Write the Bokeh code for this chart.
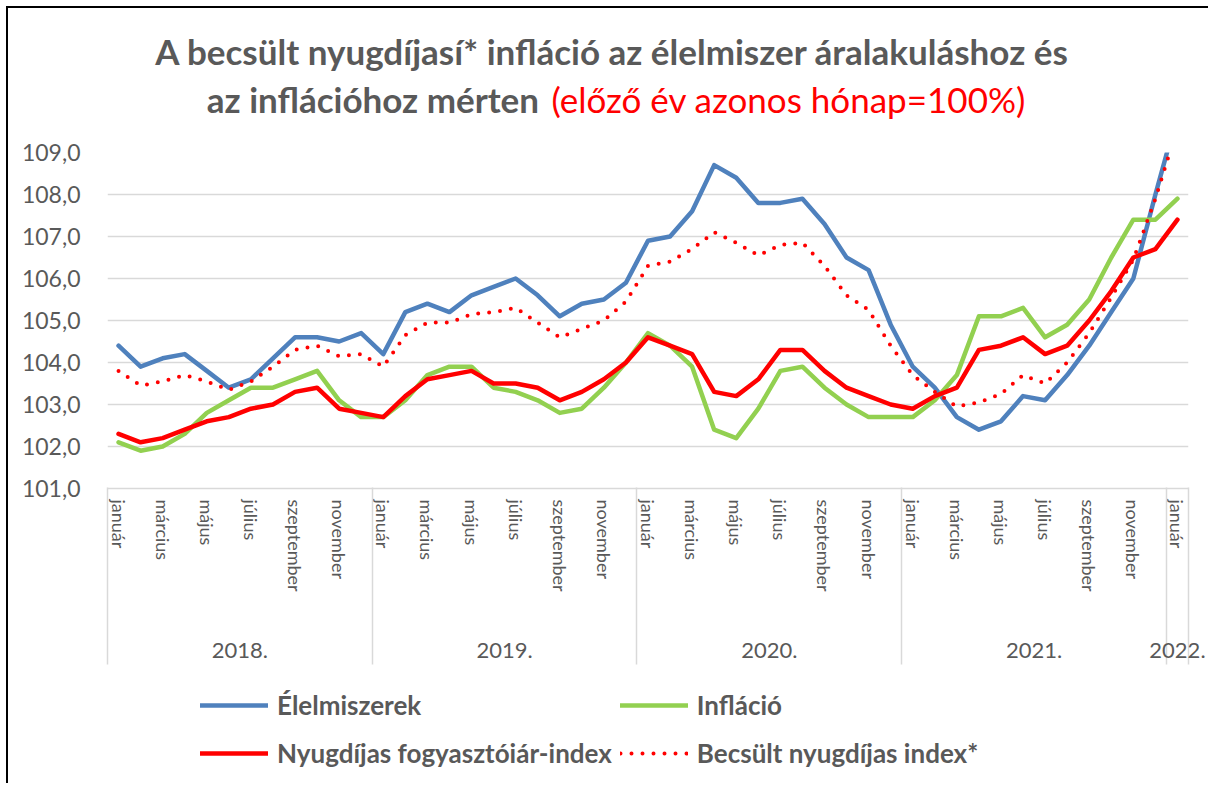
from bokeh.plotting import figure
from bokeh.layouts import column
from bokeh.models import (Range1d, FixedTicker, LinearAxis, CustomJSTickFormatter,
                          Legend, LegendItem, Grid)
from bokeh.core.properties import value
from bokeh.embed import file_html
from bokeh.resources import INLINE

# ---------------- data ----------------
month_names = ["január", "február", "március", "április", "május", "június",
               "július", "augusztus", "szeptember", "október", "november", "december"]
months = month_names * 4 + ["január"]
years = ["2018."] * 12 + ["2019."] * 12 + ["2020."] * 12 + ["2021."] * 12 + ["2022."]

elelmiszerek = [104.4, 103.9, 104.1, 104.2, 103.8, 103.4, 103.6, 104.1, 104.6, 104.6, 104.5, 104.7,
                104.2, 105.2, 105.4, 105.2, 105.6, 105.8, 106.0, 105.6, 105.1, 105.4, 105.5, 105.9,
                106.9, 107.0, 107.6, 108.7, 108.4, 107.8, 107.8, 107.9, 107.3, 106.5, 106.2, 104.9,
                103.9, 103.4, 102.7, 102.4, 102.6, 103.2, 103.1, 103.7, 104.4, 105.2, 106.0, 108.0,
                109.9]
inflacio = [102.1, 101.9, 102.0, 102.3, 102.8, 103.1, 103.4, 103.4, 103.6, 103.8, 103.1, 102.7,
            102.7, 103.1, 103.7, 103.9, 103.9, 103.4, 103.3, 103.1, 102.8, 102.9, 103.4, 104.0,
            104.7, 104.4, 103.9, 102.4, 102.2, 102.9, 103.8, 103.9, 103.4, 103.0, 102.7, 102.7,
            102.7, 103.1, 103.7, 105.1, 105.1, 105.3, 104.6, 104.9, 105.5, 106.5, 107.4, 107.4,
            107.9]
nyugdijas = [102.3, 102.1, 102.2, 102.4, 102.6, 102.7, 102.9, 103.0, 103.3, 103.4, 102.9, 102.8,
             102.7, 103.2, 103.6, 103.7, 103.8, 103.5, 103.5, 103.4, 103.1, 103.3, 103.6, 104.0,
             104.6, 104.4, 104.2, 103.3, 103.2, 103.6, 104.3, 104.3, 103.8, 103.4, 103.2, 103.0,
             102.9, 103.2, 103.4, 104.3, 104.4, 104.6, 104.2, 104.4, 105.0, 105.7, 106.5, 106.7,
             107.4]
becsult = [103.8, 103.45, 103.55, 103.7, 103.55, 103.35, 103.55, 103.9, 104.3, 104.4, 104.15, 104.2,
           103.9, 104.65, 104.95, 104.95, 105.15, 105.2, 105.3, 104.95, 104.6, 104.8, 105.0, 105.45,
           106.3, 106.4, 106.7, 107.1, 106.85, 106.55, 106.8, 106.85, 106.3, 105.6, 105.25, 104.4,
           103.7, 103.3, 102.95, 103.05, 103.25, 103.7, 103.5, 104.0, 104.7, 105.55, 106.45, 107.9,
           109.6]
y_ticks = [101, 102, 103, 104, 105, 106, 107, 108, 109]

series_labels = ["Élelmiszerek", "Infláció", "Nyugdíjas fogyasztóiár-index", "Becsült nyugdíjas index*"]
series_colors = ["#4F81BD", "#92D050", "#FF0000", "#FF0000"]
title_line1 = "A becsült nyugdíjasí* infláció az élelmiszer áralakuláshoz és"
title_line2a = "az inflációhoz  mérten"
title_line2b = "(előző év azonos hónap=100%)"

# ---------------- derived ----------------
x = list(range(len(months)))
shown = x[::2]
boundaries = [-0.5] + [i - 0.5 for i in range(1, len(years)) if years[i] != years[i - 1]] + [len(years) - 0.5]
year_names = []
for y in years:
    if y not in year_names:
        year_names.append(y)
year_centers = []
for y in year_names:
    idx = [i for i, v in enumerate(years) if v == y]
    year_centers.append((idx[0] + idx[-1]) / 2)
series = [elelmiszerek, inflacio, nyugdijas, becsult]

GRAY = "#595959"
FONT = "Lato"
W = 1200
BL, BR = 99, 20          # shared left / right borders (column aligns frames)
HT = 130                 # title block height
HM = 542                 # main plot height
HL = 103                 # legend block height

line_styles = [dict(line_width=4.5, line_join="round", line_cap="round"),
               dict(line_width=4.5, line_join="round", line_cap="round"),
               dict(line_width=4.5, line_join="round", line_cap="round"),
               dict(line_width=4, line_dash="0 11", line_cap="round")]

# ---------------- title block ----------------
pt = figure(width=W, height=HT, x_range=Range1d(BL, W - BR), y_range=Range1d(HT, 0),
            output_backend="svg", toolbar_location=None, x_axis_type=None, y_axis_type=None,
            min_border=0, min_border_left=BL, min_border_right=BR)
pt.outline_line_color = None
pt.grid.visible = False
tstyle = dict(text_font=value(FONT), text_font_size="35px", text_baseline="middle")
pt.text(x=[604], y=[42], text=[title_line1], text_align="center", text_color=GRAY,
        text_font_style="bold", **tstyle)
pt.text(x=[539], y=[90], text=[title_line2a], text_align="right", text_color=GRAY,
        text_font_style="bold", **tstyle)
pt.text(x=[543], y=[90], text=[title_line2b], text_align="left", text_color="#FF0000",
        text_font_style="normal", **tstyle)

# ---------------- main plot ----------------
p = figure(width=W, height=HM, x_range=Range1d(-0.5, len(x) - 0.5), y_range=Range1d(101, 109),
           output_backend="svg", toolbar_location=None, x_axis_type=None, y_axis_type=None,
           min_border_left=BL, min_border_right=BR, min_border_top=14, min_border_bottom=192)
p.outline_line_color = None

yticker = FixedTicker(ticks=y_ticks)
yaxis = LinearAxis(ticker=yticker,
                   formatter=CustomJSTickFormatter(code="return tick.toFixed(1).replace('.', ',')"))
yaxis.axis_line_color = None
yaxis.major_tick_line_color = None
yaxis.minor_tick_line_color = None
yaxis.major_label_text_font = FONT
yaxis.major_label_text_font_size = "23px"
yaxis.major_label_text_color = GRAY
yaxis.major_label_standoff = 21
p.add_layout(yaxis, "left")

p.add_layout(Grid(dimension=1, ticker=yticker, grid_line_color="#d9d9d9", grid_line_width=1.5))

xaxis = LinearAxis(ticker=FixedTicker(ticks=shown),
                   major_label_overrides={i: months[i] for i in shown})
xaxis.major_label_orientation = "vertical"
xaxis.major_tick_line_color = None
xaxis.minor_tick_line_color = None
xaxis.axis_line_color = "#d9d9d9"
xaxis.axis_line_width = 1.5
xaxis.major_label_standoff = 5
xaxis.major_label_text_font = FONT
xaxis.major_label_text_font_size = "18px"
xaxis.major_label_text_color = GRAY
p.add_layout(xaxis, "below")

yearaxis = LinearAxis(ticker=FixedTicker(ticks=year_centers, minor_ticks=boundaries),
                      major_label_overrides={c: n for c, n in zip(year_centers, year_names)})
yearaxis.axis_line_color = None
yearaxis.major_tick_line_color = None
yearaxis.minor_tick_line_color = "#d9d9d9"
yearaxis.minor_tick_line_width = 1.5
yearaxis.minor_tick_in = 107
yearaxis.minor_tick_out = 70
yearaxis.major_label_standoff = -22
yearaxis.major_label_text_font = FONT
yearaxis.major_label_text_font_size = "22px"
yearaxis.major_label_text_color = GRAY
p.add_layout(yearaxis, "below")

for vals, col, st in zip(series, series_colors, line_styles):
    p.line(x, vals, line_color=col, **st)

# ---------------- legend block ----------------
# same series, drawn in a block whose y-range shows none of them: only the legend keys appear
pl = figure(width=W, height=HL, x_range=Range1d(-0.5, len(x) - 0.5), y_range=Range1d(0, 1),
            output_backend="svg", toolbar_location=None, x_axis_type=None, y_axis_type=None,
            min_border=0, min_border_left=BL, min_border_right=BR)
pl.outline_line_color = None
pl.grid.visible = False
items = []
for vals, lab, col, st in zip(series, series_labels, series_colors, line_styles):
    r = pl.line(x, vals, line_color=col, **st)
    items.append(LegendItem(label=lab, renderers=[r]))

legend = Legend(items=items, location=(93, 10), orientation="horizontal", ncols=2,
                glyph_width=68, glyph_height=40, label_height=40, label_standoff=9,
                spacing=8, padding=0, margin=0, border_line_color=None, background_fill_alpha=0,
                label_text_font=FONT, label_text_font_style="bold", label_text_font_size="26px",
                label_text_color=GRAY)
pl.add_layout(legend)

layout = column(pt, p, pl, spacing=0,
                styles={"margin": "6px 0 0 6px", "border-top": "2px solid black",
                        "border-left": "2px solid black"})

open("out.html", "w").write(file_html(layout, INLINE))
